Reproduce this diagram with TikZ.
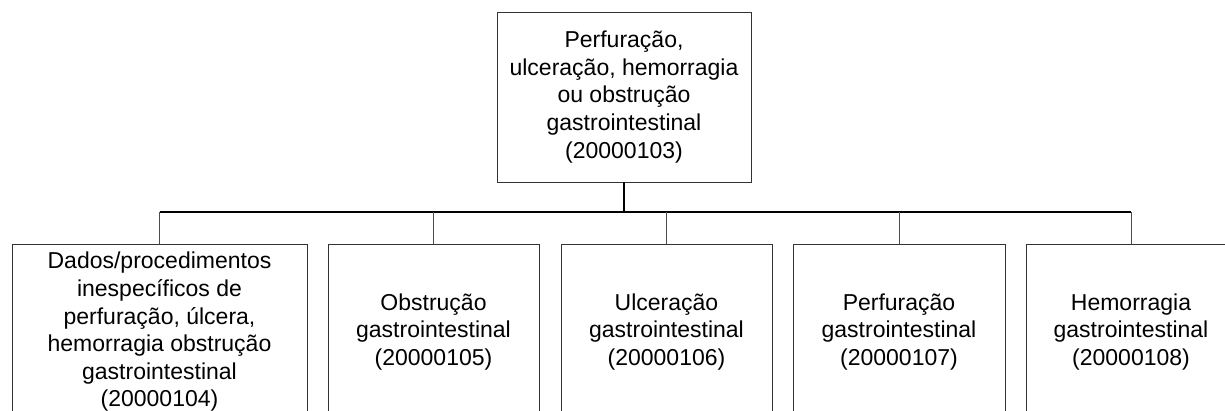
\documentclass[tikz,border=0pt]{standalone}
\usepackage{fontspec}
\setmainfont{Liberation Sans}
\usepackage{tikz}

\tikzset{caixa/.style={draw=black!80, line width=0.9pt, align=center, inner sep=0pt, font=\fontsize{23}{27.6}\selectfont}}
\tikzset{ramo/.style={draw=black!70, line width=0.9pt}}

\begin{document}
\begin{tikzpicture}[x=1pt,y=-1pt]
            \clip (0,0) rectangle (1225,411);
            % topo
            \node[caixa, minimum width=254pt, minimum height=170pt] (P) at (624,97)
              {Perfuração,\\ ulceração, hemorragia\\ ou obstrução\\ gastrointestinal\\ (20000103)};
            % filhos
            \node[caixa, minimum width=295pt, minimum height=176pt] (A) at (159.5,332)
              {Dados/procedimentos\\ inespecíficos de\\ perfuração, úlcera,\\ hemorragia obstrução\\ gastrointestinal\\ (20000104)};
            \node[caixa, minimum width=211pt, minimum height=176pt] (B) at (433.5,332)
              {Obstrução\\ gastrointestinal\\ (20000105)};
            \node[caixa, minimum width=211pt, minimum height=176pt] (C) at (666.5,332)
              {Ulceração\\ gastrointestinal\\ (20000106)};
            \node[caixa, minimum width=212pt, minimum height=176pt] (D) at (899,332)
              {Perfuração\\ gastrointestinal\\ (20000107)};
            \node[caixa, minimum width=210pt, minimum height=176pt] (E) at (1131,332)
              {Hemorragia\\ gastrointestinal\\ (20000108)};
            % ligacoes
            \coordinate (J) at (624,212);
            \draw[line width=1.8pt] (P.south) -- (J);
            \draw[line width=1.2pt] (A.north |- J) -- (E.north |- J);
            \foreach \n in {A,B,C,D,E}
              \draw[ramo] (\n.north) -- (\n.north |- J);
\end{tikzpicture}
\end{document}
